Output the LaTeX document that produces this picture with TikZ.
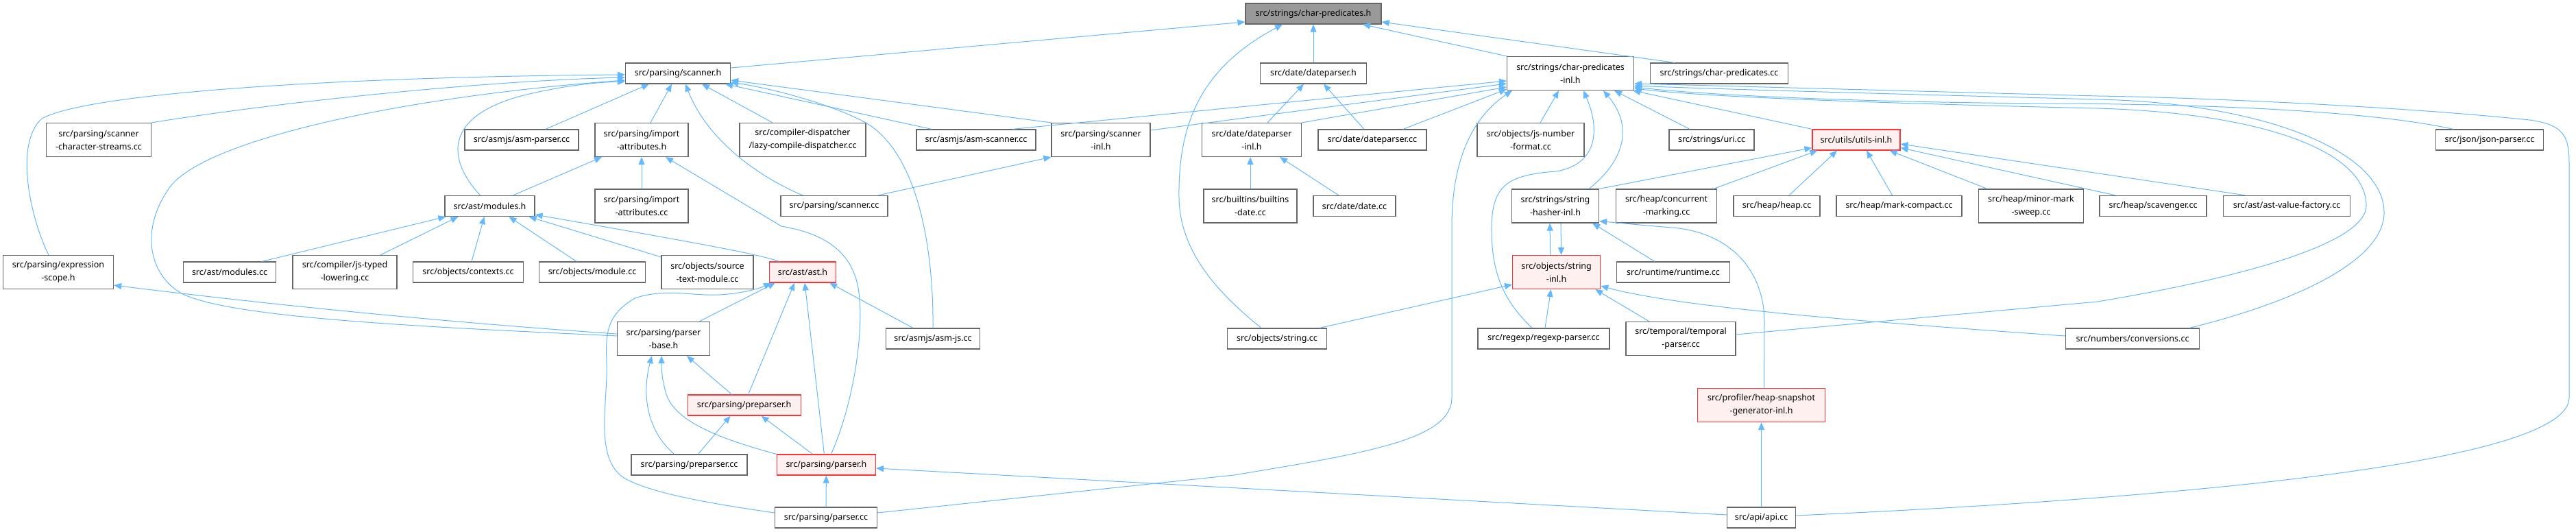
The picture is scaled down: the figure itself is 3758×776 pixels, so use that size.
\documentclass[tikz,border=0pt]{standalone}
\usepackage{fontspec}
\setmainfont{Noto Sans}
\usetikzlibrary{arrows.meta}
\definecolor{edgec}{HTML}{63B8FF}
\definecolor{bordc}{HTML}{666666}
\definecolor{topfill}{HTML}{999999}
\definecolor{redb}{HTML}{FF3333}
\definecolor{redf}{HTML}{FFF0F0}
\tikzset{
  nd/.style={draw=bordc, line width=1.2pt, fill=white, inner sep=0pt, align=center,
    font=\fontsize{12.5}{19}\selectfont, minimum height=30pt},
  two/.style={minimum height=49pt},
  rn/.style={draw=redb, fill=redf},
  tn/.style={fill=topfill},
  e/.style={draw=edgec, line width=1pt, -{Triangle[length=11pt,width=9pt]}}
}
\begin{document}
\begin{tikzpicture}[x=1pt,y=-1pt]
\useasboundingbox (0,0) rectangle (3758,776);
% row 0
\node[nd,tn,minimum width=198pt] (CP) at (1916,20) {src/strings/char-predicates.h};
% row 1
\node[nd,minimum width=153pt] (SH) at (989,107) {src/parsing/scanner.h};
\node[nd,minimum width=155pt] (DPH) at (1916,107) {src/date/dateparser.h};
\node[nd,two,minimum width=185pt] (CPI) at (2291,107) {src/strings/char-predicates\\-inl.h};
\node[nd,minimum width=201pt] (CPCC) at (2508,107) {src/strings/char-predicates.cc};
% row 2
\node[nd,two,minimum width=153pt] (SCS) at (144,204) {src/parsing/scanner\\-character-streams.cc};
\node[nd,minimum width=166pt] (AP) at (761,204) {src/asmjs/asm-parser.cc};
\node[nd,two,minimum width=136pt] (IAH) at (936,204) {src/parsing/import\\-attributes.h};
\node[nd,two,minimum width=184pt] (LCD) at (1171,204) {src/compiler-dispatcher\\/lazy-compile-dispatcher.cc};
\node[nd,minimum width=174pt] (ASC) at (1424,204) {src/asmjs/asm-scanner.cc};
\node[nd,two,minimum width=144pt] (SIH) at (1606,204) {src/parsing/scanner\\-inl.h};
\node[nd,two,minimum width=145pt] (DPI) at (1826,204) {src/date/dateparser\\-inl.h};
\node[nd,minimum width=158pt] (DPCC) at (2002,204) {src/date/dateparser.cc};
\node[nd,two,minimum width=156pt] (JNF) at (2233,204) {src/objects/js-number\\-format.cc};
\node[nd,minimum width=124pt] (URI) at (2497,204) {src/strings/uri.cc};
\node[nd,rn,minimum width=128pt] (UTL) at (2708,204) {src/utils/utils-inl.h};
\node[nd,minimum width=157pt] (JSON) at (3632,204) {src/json/json-parser.cc};
% row 3
\node[nd,minimum width=131pt] (MODH) at (714.5,300.5) {src/ast/modules.h};
\node[nd,two,minimum width=136pt] (IACC) at (936,300.5) {src/parsing/import\\-attributes.cc};
\node[nd,minimum width=156pt] (SCC) at (1217,300.5) {src/parsing/scanner.cc};
\node[nd,two,minimum width=136pt] (BD) at (1824,300.5) {src/builtins/builtins\\-date.cc};
\node[nd,minimum width=120pt] (DCC) at (1976,300.5) {src/date/date.cc};
\node[nd,two,minimum width=127pt] (SHI) at (2269,300.5) {src/strings/string\\-hasher-inl.h};
\node[nd,two,minimum width=147pt] (CM) at (2431,300.5) {src/heap/concurrent\\-marking.cc};
\node[nd,minimum width=126pt] (HEAP) at (2592,300.5) {src/heap/heap.cc};
\node[nd,minimum width=183pt] (MC) at (2770.5,300.5) {src/heap/mark-compact.cc};
\node[nd,two,minimum width=153pt] (MMS) at (2963,300.5) {src/heap/minor-mark\\-sweep.cc};
\node[nd,minimum width=156pt] (SCAV) at (3141,300.5) {src/heap/scavenger.cc};
\node[nd,minimum width=185pt] (AVF) at (3336,300.5) {src/ast/ast-value-factory.cc};
% row 4
\node[nd,two,minimum width=161pt] (EXP) at (85,397) {src/parsing/expression\\-scope.h};
\node[nd,minimum width=135pt] (AMCC) at (335,397) {src/ast/modules.cc};
\node[nd,two,minimum width=152pt] (JTL) at (503,397) {src/compiler/js-typed\\-lowering.cc};
\node[nd,minimum width=161pt] (CTX) at (683,397) {src/objects/contexts.cc};
\node[nd,minimum width=155pt] (MOD) at (864,397) {src/objects/module.cc};
\node[nd,two,minimum width=134pt] (STM) at (1032,397) {src/objects/source\\-text-module.cc};
\node[nd,rn,minimum width=97pt] (AST) at (1171,397) {src/ast/ast.h};
\node[nd,rn,two,minimum width=128pt] (SINL) at (2270.6,397) {src/objects/string\\-inl.h};
\node[nd,minimum width=165pt] (RT) at (2441,397) {src/runtime/runtime.cc};
% row 5
\node[nd,two,minimum width=135pt] (PB) at (968,494) {src/parsing/parser\\-base.h};
\node[nd,minimum width=137pt] (AJS) at (1361,494) {src/asmjs/asm-js.cc};
\node[nd,minimum width=145pt] (OSC) at (1863,494) {src/objects/string.cc};
\node[nd,minimum width=192pt] (RGX) at (2252,494) {src/regexp/regexp-parser.cc};
\node[nd,two,minimum width=160pt] (TMP) at (2452,494) {src/temporal/temporal\\-parser.cc};
\node[nd,minimum width=195pt] (CONV) at (3111,494) {src/numbers/conversions.cc};
% row 6
\node[nd,rn,minimum width=165pt] (PPH) at (1085.6,591) {src/parsing/preparser.h};
\node[nd,rn,two,minimum width=186pt] (HSG) at (2569.5,591) {src/profiler/heap-snapshot\\-generator-inl.h};
% row 7
\node[nd,minimum width=169pt] (PPCC) at (1005.5,678) {src/parsing/preparser.cc};
\node[nd,rn,minimum width=144pt] (PH) at (1205.4,678) {src/parsing/parser.h};
% row 8
\node[nd,minimum width=149pt] (PCC) at (1205,755) {src/parsing/parser.cc};
\node[nd,minimum width=100pt] (API) at (2569.6,755) {src/api/api.cc};

% ---- edges to char-predicates.h
\draw[e] ([yshift=8pt]SH.east) -- ([yshift=-12pt]CP.west);
\draw[e] (DPH) -- (CP);
\draw[e] (CPI.north west) -- ([xshift=72pt]CP.south);
\draw[e] ([xshift=-65pt]CPCC.north) -- ([yshift=-12pt]CP.east);
\draw[e] ([xshift=-23pt]OSC.north) .. controls (1780,430) and (1722,370) .. (1720,290) .. controls (1718,170) and (1760,95) .. ([xshift=-45pt]CP.south);
% ---- edges to scanner.h
\draw[e] (SCS.north east) .. controls (400,150) and (700,118) .. ([yshift=-6pt]SH.west);
\draw[e] ([xshift=-14pt]EXP.north) .. controls (45,320) and (20,210) .. (61,173) .. controls (130,135) and (500,112) .. ([yshift=-2pt]SH.west);
\draw[e] ([yshift=4pt]PB.west) .. controls (650,478) and (320,465) .. (260,425) .. controls (215,395) and (205,330) .. (250,270) .. controls (310,200) and (600,140) .. ([yshift=-10pt]SH.west);
\draw[e] ([xshift=-14pt]MODH.north) .. controls (650,230) and (650,170) .. (760,140) .. controls (820,125) and (870,120) .. ([yshift=-12pt]SH.west);
\draw[e] ([xshift=35pt]AP.north) -- ([xshift=-42pt]SH.south);
\draw[e] ([xshift=13pt]IAH.north) -- ([xshift=-9pt]SH.south);
\draw[e] ([xshift=-46pt]SCC.north) .. controls (1100,255) and (1030,200) .. ([xshift=11pt]SH.south);
\draw[e] ([xshift=-44pt]LCD.north) -- ([xshift=35pt]SH.south);
\draw[e] ([xshift=-65pt]ASC.north) -- ([xshift=-8pt]SH.south east);
\draw[e] (SIH.north west) -- ([yshift=-10pt]SH.east);
\draw[e] (AJS.north) .. controls (1362,380) and (1345,230) .. (1265,180) .. controls (1210,150) and (1120,128) .. ([yshift=-13pt]SH.east);
% ---- edges to char-predicates-inl.h
\draw[e] ([xshift=53pt]ASC.north) -- ([yshift=-11pt]CPI.west);
\draw[e] ([yshift=14pt]SIH.east) -- ([yshift=-15pt]CPI.west);
\draw[e] (DPI.north east) -- ([yshift=-20pt]CPI.west);
\draw[e] ([xshift=45pt]DPCC.north) -- ([yshift=2pt]CPI.south west);
\draw[e] ([yshift=7pt]PCC.east) -- (1800,693) .. controls (2000,660) and (2118,640) .. (2118,580) -- (2118,330) .. controls (2118,230) and (2150,170) .. ([xshift=8pt]CPI.south west);
\draw[e] ([xshift=14pt]JNF.north) -- ([xshift=-17pt]CPI.south);
\draw[e] ([xshift=49pt]SHI.north) .. controls (2375,230) and (2380,180) .. ([xshift=48pt]CPI.south);
\draw[e] ([xshift=-17pt]RGX.north) .. controls (2195,440) and (2175,400) .. (2176,330) .. controls (2177,270) and (2200,255) .. (2270,250) .. controls (2330,240) and (2335,190) .. ([xshift=19pt]CPI.south);
\draw[e] ([xshift=-32pt]URI.north) -- ([xshift=64pt]CPI.south);
\draw[e] (UTL.north west) -- ([xshift=-2pt]CPI.south east);
\draw[e] ([xshift=-53pt]JSON.north) .. controls (3450,160) and (3200,152) .. (3000,151) .. controls (2750,150) and (2500,140) .. ([yshift=-20pt]CPI.east);
\draw[e] ([yshift=6pt]TMP.east) -- (3060,440) .. controls (3300,400) and (3452,350) .. (3452,300) .. controls (3452,220) and (3300,165) .. (3060,158) .. controls (2800,152) and (2500,143) .. ([yshift=-22pt]CPI.east);
\draw[e] ([xshift=83pt]CONV.north) .. controls (3350,440) and (3478,380) .. (3478,310) .. controls (3478,220) and (3300,150) .. (3060,145) .. controls (2800,138) and (2500,130) .. ([yshift=-18pt]CPI.east);
\draw[e] ([yshift=3pt]API.east) .. controls (3000,735) and (3748,690) .. (3748,580) -- (3748,240) .. controls (3748,200) and (3742,182) .. (3690,175) .. controls (3500,155) and (3200,142) .. (3060,140) .. controls (2800,133) and (2500,125) .. ([yshift=-15pt]CPI.east);
% ---- dateparser.h / dateparser-inl.h
\draw[e] ([xshift=23pt]DPI.north) -- ([xshift=-14pt]DPH.south);
\draw[e] ([xshift=-12pt]DPCC.north) -- ([xshift=15pt]DPH.south);
\draw[e] (BD.north) -- (BD.north |- DPI.south);
\draw[e] ([xshift=-23pt]DCC.north) -- ([xshift=41pt]DPI.south);
% ---- import-attributes.h
\draw[e] ([xshift=34pt]MODH.north) -- ([xshift=-58pt]IAH.south);
\draw[e] (IACC) -- (IAH);
\draw[e] ([xshift=7pt]PH.north) .. controls (1245,590) and (1262,480) .. (1252,420) .. controls (1242,365) and (1200,340) .. (1140,330) -- ([xshift=35pt]IAH.south);
% ---- modules.h
\draw[e] ([xshift=47pt]AMCC.north) -- ([xshift=2pt]MODH.south west);
\draw[e] ([xshift=52pt]JTL.north) -- ([xshift=20pt]MODH.south west);
\draw[e] ([xshift=5pt]CTX.north) -- ([xshift=-8pt]MODH.south);
\draw[e] ([xshift=-23pt]MOD.north) -- ([xshift=28pt]MODH.south);
\draw[e] ([yshift=-3pt]STM.north west) -- ([xshift=-9pt]MODH.south east);
\draw[e] ([xshift=-34pt]AST.north) .. controls (1110,372) and (1050,360) .. ([yshift=3pt]MODH.south east);
% ---- ast.h
\draw[e] ([xshift=52pt]PB.north) -- ([xshift=-40pt]AST.south);
\draw[e] ([xshift=6pt]PPH.north) -- ([xshift=-12pt]AST.south);
\draw[e] ([xshift=-3pt]PH.north) -- ([xshift=3pt]AST.south);
\draw[e] ([xshift=-29pt]AJS.north) -- ([xshift=-10pt]AST.south east);
\draw[e] ([yshift=7pt]PCC.west) .. controls (1040,735) and (950,720) .. (910,697) .. controls (870,670) and (884,600) .. (885,547) .. controls (886,500) and (875,465) .. (926,435) .. controls (970,420) and (1010,432) .. (1049,430) .. controls (1085,428) and (1110,420) .. ([xshift=-46pt]AST.south);
% ---- parser-base.h
\draw[e] ([xshift=-18pt]PPH.north) -- ([xshift=34pt]PB.south);
\draw[e] ([xshift=-22pt]PPCC.north) .. controls (935,620) and (940,560) .. ([xshift=-17pt]PB.south);
\draw[e] (PH.north west) .. controls (1050,640) and (985,615) .. (972,575) .. controls (966,555) and (965,540) .. ([xshift=-3pt]PB.south);
\draw[e] ([yshift=7pt]PB.west) .. controls (650,470) and (400,445) .. ([yshift=6pt]EXP.south east);
% ---- preparser.h / parser.h
\draw[e] ([xshift=13pt]PPCC.north) -- ([xshift=-20pt]PPH.south);
\draw[e] ([xshift=-20pt]PH.north) -- ([xshift=25pt]PPH.south);
\draw[e] (PCC) -- (PH);
\draw[e] ([yshift=4pt]API.west) -- ([yshift=-5pt]PH.east);
% ---- scanner-inl.h
\draw[e] ([xshift=64pt]SCC.north) -- (SIH.south west);
% ---- string-hasher-inl.h
\draw[e] ([xshift=-9pt]SINL.north) -- ([xshift=-8pt]SHI.south);
\draw[e] ([xshift=8pt]SHI.south) -- ([xshift=7pt]SINL.north);
\draw[e] ([xshift=-27pt]RT.north) -- ([xshift=-10pt]SHI.south east);
\draw[e] ([xshift=4pt]HSG.north) -- (2574,470) .. controls (2574,400) and (2530,340) .. (2440,332) .. controls (2400,329) and (2360,325) .. ([yshift=3pt]SHI.south east);
% ---- utils-inl.h
\draw[e] (SHI.north east) -- ([yshift=4pt]UTL.south west);
\draw[e] ([xshift=69pt]CM.north) -- ([xshift=8pt]UTL.south west);
\draw[e] ([xshift=18pt]HEAP.north) -- ([xshift=-28pt]UTL.south);
\draw[e] ([xshift=-10pt]MC.north) -- ([xshift=15pt]UTL.south);
\draw[e] ([xshift=-64pt]MMS.north) -- ([xshift=-16pt]UTL.south east);
\draw[e] ([xshift=-55pt]SCAV.north) -- ([yshift=4pt]UTL.south east);
\draw[e] ([xshift=-60pt]AVF.north) -- ([yshift=-6pt]UTL.east);
% ---- string-inl.h
\draw[e] ([xshift=62pt]OSC.north) -- ([yshift=7pt]SINL.south west);
\draw[e] ([xshift=2pt]RGX.north) -- ([xshift=-8pt]SINL.south);
\draw[e] ([xshift=-46pt]TMP.north) -- ([xshift=-8pt]SINL.south east);
\draw[e] ([yshift=4pt]CONV.west) .. controls (2700,468) and (2450,448) .. ([yshift=5pt]SINL.south east);
% ---- heap-snapshot
\draw[e] (API) -- (HSG);
\end{tikzpicture}
\end{document}
